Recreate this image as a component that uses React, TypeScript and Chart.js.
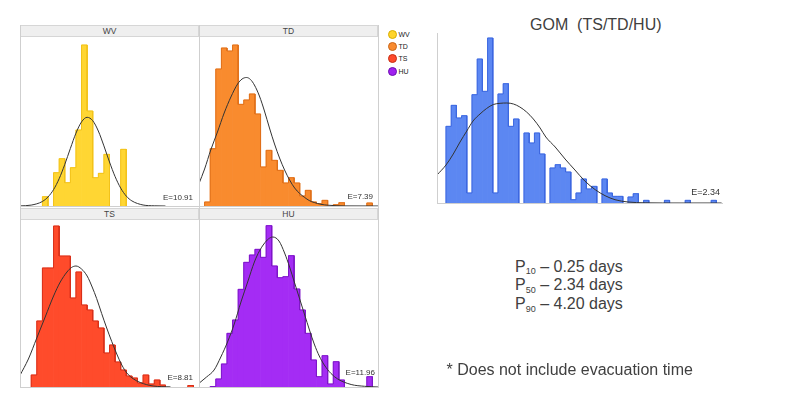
import React, { useEffect, useRef } from "react";
import { Chart, registerables } from "chart.js";
Chart.register(...registerables);

// ---------- DATA ----------
const PANEL_NAMES = ["WV", "TD", "TS", "HU"];
const E_LABELS = ["E=10.91", "E=7.39", "E=8.81", "E=11.96"];
const GOM_TITLE = "GOM  (TS/TD/HU)";
const GOM_E = "E=2.34";
const P_LABELS = ["10", "50", "90"];
const P_VALUES = ["0.25 days", "2.34 days", "4.20 days"];
const NOTE = "* Does not include evacuation time";

// histogram bin heights (relative frequency units)
const WV_BINS = [0, 0, 0, 0, 0.93, 0, 3.33, 4.73, 2.33, 3.83, 7.6, 16.1, 9.5, 2.83, 3.27, 5.17, 0, 0, 5.67, 0, 0, 0, 0, 0, 0, 0, 0, 0, 0, 0, 0, 0];
const TD_BINS = [0, 0.4, 5.73, 13.7, 15.8, 15.5, 16.1, 10.17, 10.6, 11.2, 9.2, 3.9, 5.57, 4.57, 3.57, 2.3, 2.83, 2.3, 1.0, 1.57, 0.4, 0.23, 0.57, 0, 0.13, 0.33, 0, 0, 0, 0, 0.3, 0];
const TS_BINS = [0, 0, 1.2, 6.6, 11.9, 11.9, 16.1, 13.1, 13.1, 8.9, 11.5, 8.2, 7.7, 6.6, 5.9, 3.4, 4.2, 2.5, 1.7, 1.1, 0.9, 0.4, 1.2, 0.3, 0.7, 0.2, 0, 0, 0, 0, 0.15, 0];
const HU_BINS = [0, 0, 0.05, 0.8, 2.3, 5.37, 6.7, 9.77, 12.47, 13.2, 13.77, 12.97, 16.13, 12.1, 10.93, 11.03, 13.13, 9.8, 7.7, 5.37, 2.7, 1.03, 3.13, 0.3, 2.53, 0.7, 0, 0, 0, 0, 1.03, 0];
const GOM_BINS = [7.67, 9.77, 8.5, 8.73, 1.0, 10.83, 14.4, 11.17, 16.5, 1.0, 10.9, 11.93, 7.67, 8.4, 0, 7.0, 6.0, 7.0, 4.9, 0, 3.5, 3.83, 3.5, 3.1, 0.33, 1.0, 2.4, 1.4, 1.67, 0, 2.4, 1.0, 0.67, 0.67, 0, 0.6, 0.93, 0, 0.27, 0, 0, 0, 0.27, 0, 0, 0, 0.27, 0, 0, 0, 0, 0.27];

// fitted curves (x in bin units)
const WV_CURVE_X = [0, 2, 4, 5, 6, 7, 8, 9, 10, 11, 12, 13, 14, 15, 16, 17, 18, 19, 20, 22, 24, 26];
const WV_CURVE_Y = [0.01, 0.09, 0.45, 0.9, 1.64, 2.73, 4.15, 5.75, 7.28, 8.41, 8.87, 8.53, 7.5, 6.01, 4.4, 2.94, 1.79, 0.99, 0.51, 0.1, 0.02, 0];
const TD_CURVE_X = [0, 1, 2.1, 3.3, 4.5, 5.7, 6.9, 7.7, 8.5, 9.2, 9.9, 10.8, 11.7, 12.6, 13.5, 14.4, 15.3, 16.2, 17.1, 18, 18.9, 19.7, 20.6, 21.8, 23, 26, 32];
const TD_CURVE_Y = [2.25, 3.7, 5.6, 7.4, 9.3, 10.9, 12.2, 12.7, 12.85, 12.65, 12.1, 11.0, 9.5, 7.8, 6.2, 4.8, 3.6, 2.6, 1.8, 1.25, 0.85, 0.55, 0.35, 0.17, 0.08, 0.01, 0];
const TS_CURVE_X = [0, 1.5, 3.0, 4.5, 6.0, 7.2, 8.4, 9.2, 10.0, 11.0, 12.0, 12.9, 13.7, 14.6, 15.5, 16.4, 17.3, 18.2, 19.1, 20.3, 21.5, 23.8, 26.9];
const TS_CURVE_Y = [1.17, 2.8, 4.9, 7.0, 9.1, 10.5, 11.5, 11.95, 12.1, 11.8, 11.1, 10.0, 8.85, 7.35, 5.9, 4.55, 3.3, 2.2, 1.4, 0.8, 0.45, 0.1, 0.01];
const HU_CURVE_X = [0, 1.35, 2.7, 3.9, 5.1, 6.3, 7.5, 8.7, 9.9, 10.8, 11.6, 12.4, 13.2, 14.3, 15.3, 16.2, 17.1, 18.0, 18.9, 19.75, 20.6, 21.5, 22.4, 23.6, 24.8, 27.2, 29.6, 32];
const HU_CURVE_Y = [0.37, 1.0, 1.7, 3.0, 4.5, 6.3, 8.5, 10.5, 12.5, 13.6, 14.3, 14.8, 15.0, 14.6, 13.4, 12.0, 10.4, 8.8, 7.2, 5.7, 4.3, 3.1, 2.2, 1.35, 0.8, 0.25, 0.07, 0];
const GOM_CURVE_X = [-1.73, 0, 1.4, 2.7, 4.0, 5.2, 6.54, 7.8, 9.1, 10.4, 11.7, 12.98, 14.2, 15.5, 16.8, 18.1, 19.2, 21.0, 22.9, 24.8, 26.7, 28.7, 30.6, 32.5, 35.0, 38.3, 45, 53];
const GOM_CURVE_Y = [2.8, 3.8, 4.9, 6.1, 7.2, 8.2, 8.9, 9.45, 9.85, 9.97, 10.0, 9.9, 9.6, 9.1, 8.4, 7.5, 6.6, 5.6, 4.4, 3.3, 2.2, 1.33, 0.73, 0.33, 0.1, 0.02, 0, 0];

const FONT = '"Liberation Sans", Arial, Helvetica, sans-serif';

type HistProps = {
  left: number; top: number; width: number; height: number;
  bins: number[]; curveX: number[]; curveY: number[];
  xMin: number; xMax: number; yMax: number; fill: string; edge: string;
};

// outline of the histogram built from the same bins (corners of each bin)
function buildOutline(bins: number[]) {
  const pts: { x: number; y: number | null }[] = [];
  const n = bins.length;
  for (let i = 0; i < n; i++) {
    const v = bins[i];
    if (v > 0) {
      if (i === 0 || bins[i - 1] === 0) pts.push({ x: i, y: 0 });
      pts.push({ x: i, y: v });
      pts.push({ x: i + 1, y: v });
      if (i === n - 1 || bins[i + 1] === 0) pts.push({ x: i + 1, y: 0 });
    } else {
      pts.push({ x: i + 0.5, y: null });
    }
  }
  return pts;
}

function Hist(p: HistProps) {
  const ref = useRef<HTMLCanvasElement | null>(null);
  useEffect(() => {
    if (!ref.current) return;
    const chart = new Chart(ref.current, {
      type: "bar",
      data: {
        datasets: [
          {
            type: "line",
            data: p.curveX.map((x, i) => ({ x, y: p.curveY[i] })),
            borderColor: "#333333",
            borderWidth: 1,
            pointRadius: 0,
            fill: false,
            cubicInterpolationMode: "monotone",
            order: 0,
          },
          {
            type: "line",
            data: buildOutline(p.bins),
            borderColor: p.edge,
            borderWidth: 1,
            pointRadius: 0,
            fill: false,
            tension: 0,
            spanGaps: false,
            order: 1,
          },
          {
            type: "bar",
            data: p.bins.map((v, i) => ({ x: i + 0.5, y: v > 0 ? v : null })),
            backgroundColor: p.fill,
            borderWidth: 0,
            barPercentage: 1,
            categoryPercentage: 1,
            order: 2,
          },
        ],
      } as any,
      options: {
        animation: false,
        responsive: false,
        maintainAspectRatio: false,
        devicePixelRatio: 1,
        events: [],
        layout: { padding: 0 },
        plugins: { legend: { display: false }, tooltip: { enabled: false }, title: { display: false } },
        scales: {
          x: {
            type: "linear", min: p.xMin, max: p.xMax, display: false, offset: false,
            afterBuildTicks: (s: any) => { s.ticks = []; },
          },
          y: { type: "linear", min: 0, max: p.yMax, display: false },
        },
      } as any,
    });
    return () => chart.destroy();
  }, []);
  return (
    <canvas
      ref={ref}
      width={p.width}
      height={p.height}
      style={{ position: "absolute", left: p.left, top: p.top, width: p.width, height: p.height }}
    />
  );
}

const abs = (l: number, t: number, w: number, h: number, extra: any = {}) => ({
  position: "absolute" as const, left: l, top: t, width: w, height: h, ...extra,
});

export default function App() {
  const lineColor = "#cfcfcf";
  const headers = [
    { x: 20, y: 25, h: 12 },
    { x: 199, y: 25, h: 12 },
    { x: 20, y: 208, h: 12 },
    { x: 199, y: 208, h: 12 },
  ];
  const eLabel = [
    { r: 193, y: 193 },
    { r: 373, y: 192 },
    { r: 193, y: 373 },
    { r: 375, y: 368 },
  ];
  const legendColors = [
    ["#FFD42A", "#d9ad00"],
    ["#F98B2E", "#c9661a"],
    ["#FF4B2B", "#c72e14"],
    ["#A020F0", "#6d10b0"],
  ];
  const legendY = [34, 46, 58.5, 71];
  return (
    <div style={abs(0, 0, 800, 397, { background: "#ffffff", fontFamily: FONT, overflow: "hidden" })}>
      {/* small multiples */}
      <Hist left={20} top={37} width={179} height={169} bins={WV_BINS} curveX={WV_CURVE_X} curveY={WV_CURVE_Y}
        xMin={0} xMax={32} yMax={16.9} fill="#FFD633" edge="#F2C21A" />
      <Hist left={199} top={37} width={179} height={169} bins={TD_BINS} curveX={TD_CURVE_X} curveY={TD_CURVE_Y}
        xMin={0} xMax={32} yMax={16.9} fill="#F98B2E" edge="#E0701A" />
      <Hist left={20} top={220} width={179} height={167} bins={TS_BINS} curveX={TS_CURVE_X} curveY={TS_CURVE_Y}
        xMin={0} xMax={32} yMax={16.7} fill="#FF4B2B" edge="#D8301A" />
      <Hist left={199} top={220} width={179} height={167} bins={HU_BINS} curveX={HU_CURVE_X} curveY={HU_CURVE_Y}
        xMin={0} xMax={32} yMax={16.7} fill="#A42CF4" edge="#7E17C8" />

      {headers.map((h, i) => (
        <div key={"h" + i} style={abs(h.x, h.y, 179, h.h, {
          background: "#efefef", boxSizing: "border-box", border: "1px solid #d6d6d6",
          fontSize: 8.5, lineHeight: h.h - 2 + "px", textAlign: "center", color: "#444",
        })}>{PANEL_NAMES[i]}</div>
      ))}
      {/* frame lines */}
      <div style={abs(20, 25, 1, 363, { background: lineColor })} />
      <div style={abs(199, 25, 1, 363, { background: lineColor })} />
      <div style={abs(378, 25, 1, 363, { background: lineColor })} />
      <div style={abs(20, 206, 359, 1, { background: lineColor })} />
      <div style={abs(20, 387, 359, 1, { background: lineColor })} />

      {E_LABELS.map((t, i) => (
        <div key={"e" + i} style={abs(eLabel[i].r - 60, eLabel[i].y, 60, 10, {
          fontSize: 8, lineHeight: "10px", textAlign: "right", color: "#333",
        })}>{t}</div>
      ))}

      {/* legend */}
      {PANEL_NAMES.map((n, i) => (
        <React.Fragment key={"l" + i}>
          <div style={abs(387.5, legendY[i] - 4.5, 9, 9, {
            borderRadius: "50%", background: legendColors[i][0], boxSizing: "border-box",
            border: "1px solid " + legendColors[i][1],
          })} />
          <div style={abs(398.5, legendY[i] - 4.5, 30, 9, { fontSize: 7, lineHeight: "9px", color: "#222" })}>{n}</div>
        </React.Fragment>
      ))}

      {/* GOM chart */}
      <div style={abs(530, 16, 200, 18, { fontSize: 16, lineHeight: "18px", color: "#404040", whiteSpace: "pre" })}>{GOM_TITLE}</div>
      <Hist left={437} top={33} width={285} height={170} bins={GOM_BINS} curveX={GOM_CURVE_X} curveY={GOM_CURVE_Y}
        xMin={-1.73} xMax={53.08} yMax={17.0} fill="#5C87F2" edge="#3D68E0" />
      <div style={abs(437, 33, 1, 171, { background: lineColor })} />
      <div style={abs(437, 203, 286, 1, { background: lineColor })} />
      <div style={abs(660, 187, 60, 11, { fontSize: 9, lineHeight: "11px", textAlign: "right", color: "#333" })}>{GOM_E}</div>

      {/* percentiles */}
      {P_LABELS.map((s, i) => (
        <div key={"p" + i} style={abs(515, 256.6 + i * 18.8, 200, 19, { fontSize: 16, lineHeight: "19px", color: "#404040", whiteSpace: "pre" })}>
          P<span style={{ fontSize: 9, position: "relative", top: 2.5 }}>{s}</span>{" \u2013 " + P_VALUES[i]}
        </div>
      ))}
      <div style={abs(446.5, 360, 320, 19, { fontSize: 16, lineHeight: "19px", color: "#404040", whiteSpace: "pre" })}>{NOTE}</div>
    </div>
  );
}
